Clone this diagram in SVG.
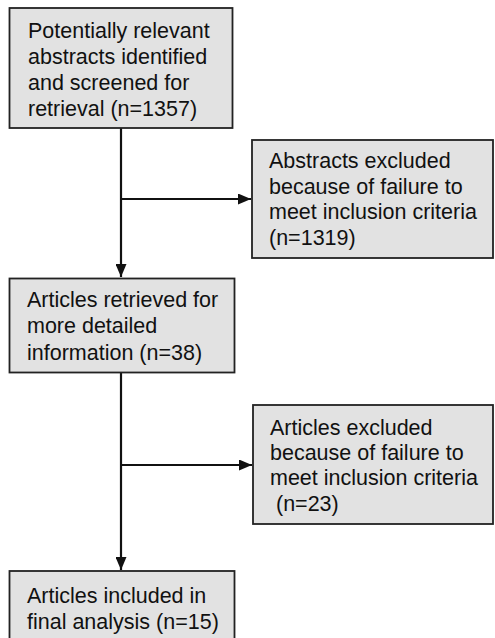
<svg xmlns="http://www.w3.org/2000/svg" width="495" height="638" viewBox="0 0 495 638">
<style>
.box{fill:#e2e2e2;stroke:#222;stroke-width:1.8}
.t{font-family:"Liberation Sans",Arial,sans-serif;font-size:21.5px;fill:#111}
.c{fill:none;stroke:#111;stroke-width:2.2}
</style>
<defs>
<marker id="ah" viewBox="0 0 13 11" refX="13" refY="5.5" markerWidth="13" markerHeight="11" markerUnits="userSpaceOnUse" orient="auto">
<path d="M0,0 L13,5.5 L0,11 z" fill="#111"/>
</marker>
</defs>
<rect width="495" height="638" fill="#fff"/>
<g id="connectors">
<path class="c" d="M121,128 V277" marker-end="url(#ah)"/>
<path class="c" d="M121,199 H251" marker-end="url(#ah)"/>
<path class="c" d="M121,373 V570" marker-end="url(#ah)"/>
<path class="c" d="M121,465 H252" marker-end="url(#ah)"/>
</g>
<g id="n1">
<rect class="box" x="9.5" y="8" width="223" height="120"/>
<text class="t" x="28" y="38">Potentially relevant</text>
<text class="t" x="28" y="64">abstracts identified</text>
<text class="t" x="28" y="90">and screened for</text>
<text class="t" x="28" y="116">retrieval (n=1357)</text>
</g>
<g id="n2">
<rect class="box" x="252" y="140" width="241" height="118"/>
<text class="t" x="269" y="168">Abstracts excluded</text>
<text class="t" x="269" y="193.5">because of failure to</text>
<text class="t" x="269" y="219">meet inclusion criteria</text>
<text class="t" x="269" y="244.5">(n=1319)</text>
</g>
<g id="n3">
<rect class="box" x="9.5" y="278.5" width="225" height="94"/>
<text class="t" x="27" y="306.5">Articles retrieved for</text>
<text class="t" x="27" y="333">more detailed</text>
<text class="t" x="27" y="359.5">information (n=38)</text>
</g>
<g id="n4">
<rect class="box" x="253" y="405" width="240" height="119"/>
<text class="t" x="270" y="434.5">Articles excluded</text>
<text class="t" x="270" y="459.5">because of failure to</text>
<text class="t" x="270" y="485">meet inclusion criteria</text>
<text class="t" x="270" y="510.5" xml:space="preserve"> (n=23)</text>
</g>
<g id="n5">
<rect class="box" x="9.5" y="571" width="225" height="70"/>
<text class="t" x="27" y="603">Articles included in</text>
<text class="t" x="27" y="628.5">final analysis (n=15)</text>
</g>
</svg>
